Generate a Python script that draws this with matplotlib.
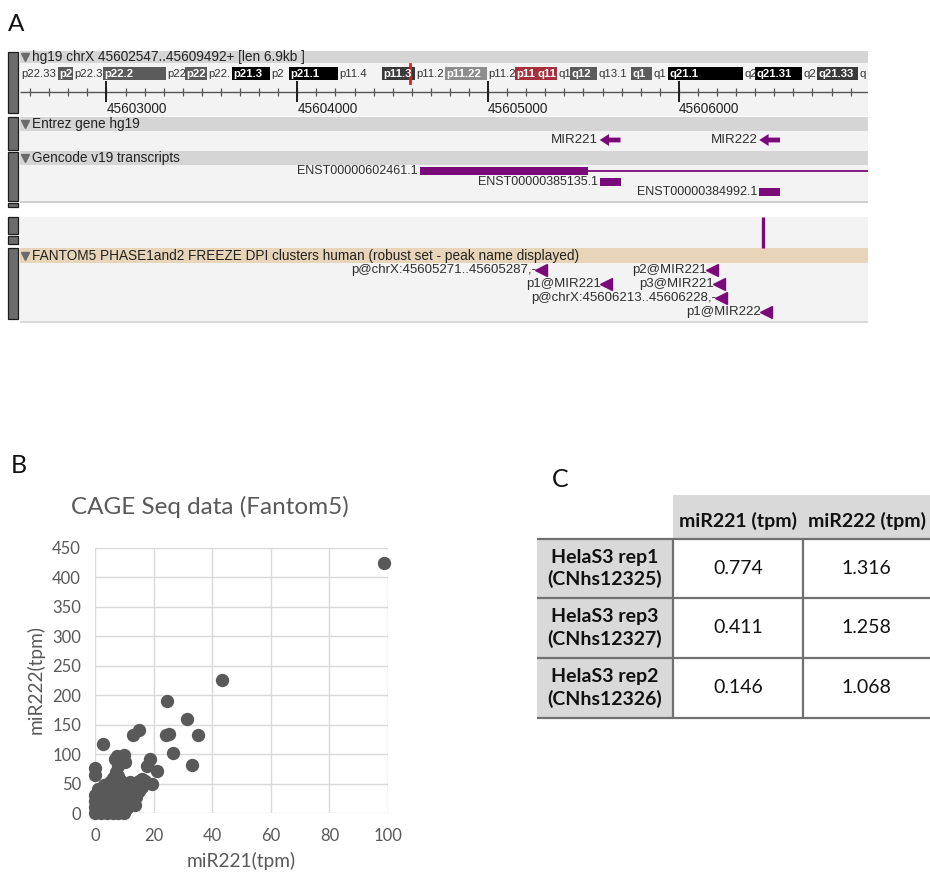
import matplotlib
matplotlib.use("Agg")
import matplotlib.pyplot as plt
from matplotlib.patches import Rectangle, Polygon
import numpy as np

# ======================= DATA =======================
# ---- Panel A : genome browser view (hg19 chrX) ----
view_start = 45602547
view_end = 45606991
ruler_major = [45603000, 45604000, 45605000, 45606000]

track_titles = ["hg19 chrX 45602547..45609492+ [len 6.9kb ]",
                "Entrez gene hg19",
                "Gencode v19 transcripts",
                "FANTOM5 PHASE1and2 FREEZE DPI clusters human (robust set - peak name displayed)"]

band_labels = ["p22.33", "p2", "p22.3", "p22.2", "p22", "p22", "p22.", "p21.3", "p2", "p21.1",
               "p11.4", "p11.3", "p11.2", "p11.22", "p11.2", "p11", "q11", "q1", "q12", "q13.1",
               "q1", "q1", "q21.1", "q2", "q21.31", "q2", "q21.33", "q"]
band_stains = ["gneg", "gpos50", "gneg", "gpos50", "gneg", "gpos50", "gneg", "gpos100", "gneg", "gpos100",
               "gneg", "gpos75", "gneg", "gpos25", "gneg", "acen", "acen", "gneg", "gpos50", "gneg",
               "gpos50", "gneg", "gpos100", "gneg", "gpos100", "gneg", "gpos75", "gneg"]
band_edges = [0, 38, 53, 83, 146, 165, 187, 212, 250, 269, 318, 362, 395, 425, 467, 495, 516, 537,
              550, 577, 611, 632, 648, 723, 735, 782, 797, 838, 848]
ideogram_marker = 390

gene_names = ["MIR221", "MIR222"]
gene_start = [45605585, 45606421]
gene_end = [45605694, 45606530]

tx_names = ["ENST00000602461.1", "ENST00000385135.1", "ENST00000384992.1"]
tx_thick_start = [45604643, 45605585, 45606421]
tx_thick_end = [45605525, 45605694, 45606530]
tx_end = [45609492, 45605694, 45606530]

signal_pos = [45606440]

peak_names = ["p@chrX:45605271..45605287,-", "p2@MIR221", "p1@MIR221", "p3@MIR221",
              "p@chrX:45606213..45606228,-", "p1@MIR222"]
peak_pos = [45605279, 45606171, 45605620, 45606208, 45606221, 45606454]
peak_row = [0, 0, 1, 1, 2, 3]

# ---- Panel B : CAGE scatter ----
mir221_tpm = [98.5, 43.5, 24.7, 31.3, 15.1, 13.1, 24.2, 25.4, 35.3, 2.6, 26.7, 33.0, 0.0, 0.0,
              9.8, 7.6, 6.8, 10.2, 18.8, 17.8, 21.3, 19.3, 13.6,
              0, 0, 0, 0, 1, 1, 1, 1, 1, 2, 2, 2, 2, 3, 3, 3, 3, 3,
              4, 4, 4, 4, 4, 5, 5, 5, 5, 5, 6, 6, 6, 6, 6, 6,
              7, 7, 7, 7, 7, 7, 8, 8, 8, 8, 8, 8, 8, 9, 9, 9, 9, 9,
              10, 10, 10, 10, 10, 11, 11, 11, 12, 12, 12, 13, 13, 14, 14, 15, 15, 16, 16, 17]
mir222_tpm = [425, 226, 191, 160, 141, 132, 133, 135, 133, 118, 102, 81, 77, 64,
              98, 96, 91, 87, 91, 79, 72, 49, 13,
              0, 10, 20, 30, 5, 15, 25, 35, 40, 0, 10, 20, 30, 5, 15, 25, 38, 48,
              0, 10, 20, 30, 45, 5, 15, 25, 38, 52, 0, 12, 22, 32, 45, 60,
              5, 18, 28, 40, 55, 70, 0, 10, 22, 35, 48, 62, 80, 5, 15, 28, 42, 55,
              0, 12, 25, 38, 50, 8, 30, 45, 20, 35, 52, 18, 42, 28, 48, 38, 55, 45, 58, 55]

# ---- Panel C : table ----
col_headers = ["miR221 (tpm)", "miR222 (tpm)"]
row_labels = ["HelaS3 rep1\n(CNhs12325)", "HelaS3 rep3\n(CNhs12327)", "HelaS3 rep2\n(CNhs12326)"]
tbl_mir221 = ["0.774", "0.411", "0.146"]
tbl_mir222 = ["1.316", "1.258", "1.068"]

# ======================= FIGURE =======================
W, H = 930, 873
fig = plt.figure(figsize=(9.3, 8.73), dpi=100)
fig.patch.set_facecolor("white")

ARIAL = ["Liberation Sans", "DejaVu Sans"]
CALIB = ["Lato", "DejaVu Sans"]
PURPLE = "#7a0a7a"
TXT = "#2e2e2e"


def ax_px(x0, y0, x1, y1):
    return fig.add_axes([x0 / W, 1 - y1 / H, (x1 - x0) / W, (y1 - y0) / H])


# ---------------- Panel A ----------------
fig.text(8 / W, 1 - 31 / H, "A", fontsize=17.5, family=CALIB, color="#111111", va="baseline")

axA = ax_px(20, 45, 868, 325)
axA.set_xlim(view_start, view_end)
axA.set_ylim(325, 45)
axA.axis("off")
yt = axA.get_yaxis_transform()
AW = 848.0


def hband(y0, y1, color):
    axA.add_patch(Rectangle((0, y0), 1, y1 - y0, transform=yt, facecolor=color, lw=0, zorder=0))


hband(51, 63, "#d5d5d5")
hband(63, 116, "#f3f3f3")
hband(117, 131, "#d5d5d5")
hband(131, 151, "#f3f3f3")
hband(151, 165, "#d5d5d5")
hband(165, 201, "#f3f3f3")
hband(201, 203, "#cfcfcf")
hband(217, 248, "#f3f3f3")
hband(248, 263, "#e8d4b8")
hband(263, 321, "#f3f3f3")
hband(321, 323, "#d9d9d9")

# track handles on the left
for (y0, y1) in [(52, 113), (117, 150), (152, 201), (203, 207), (217, 234), (236, 244), (248, 319)]:
    axA.add_patch(Rectangle((-12 / AW, y0), 10 / AW, y1 - y0, transform=yt,
                            facecolor="#6c6c6c", edgecolor="#1c1c1c", lw=0.9, clip_on=False, zorder=2))

# track titles
for title, yc in zip(track_titles, [57, 124, 158, 256]):
    axA.plot([5 / AW], [yc], marker="v", ms=6, color="#6a6a6a", transform=yt, zorder=3)
    axA.text(11.5 / AW, yc, title, transform=yt, fontsize=9.8, family=ARIAL, color="#222222",
             va="center", ha="left", zorder=3)

# ideogram
axI = ax_px(20, 67, 868, 80)
axI.set_xlim(band_edges[0], band_edges[-1])
axI.set_ylim(0, 1)
axI.axis("off")
stain_color = {"gpos25": "#8d8d8d", "gpos50": "#5b5b5b", "gpos75": "#3a3a3a",
               "gpos100": "#000000", "acen": "#a8303a"}
for lab, st, a, b in zip(band_labels, band_stains, band_edges[:-1], band_edges[1:]):
    if st != "gneg":
        axI.add_patch(Rectangle((a, 0), b - a, 1, facecolor=stain_color[st], lw=0))
        t = axI.text(a + 1.5, 0.45, lab, fontsize=8.2, family=ARIAL, color="white",
                     fontweight="bold", va="center", ha="left")
    else:
        t = axI.text(a + 1.5, 0.45, lab, fontsize=8.2, family=ARIAL, color="#333333",
                     va="center", ha="left")
    t.set_clip_path(Rectangle((a, 0), b - a, 1, transform=axI.transData))
axI.plot([ideogram_marker, ideogram_marker], [-0.25, 1.25], color="#e02020", lw=2, clip_on=False)

# ruler
minor = np.arange(45602600, view_end, 100)
axA.hlines(92, view_start, view_end, color="#555555", lw=1)
axA.vlines(minor, 88, 96, color="#555555", lw=0.9)
axA.vlines(ruler_major, 81, 102, color="#1e1e1e", lw=1.4)
for p in ruler_major:
    axA.text(p, 102, f"{p}", ha="left", va="top", fontsize=9.8, family=ARIAL, color="#222222")


def left_arrow(start, end, y, body_h=2.4, head_h=6.0, head_frac=0.45):
    hl = (end - start) * head_frac
    verts = [(start, y), (start + hl, y - head_h), (start + hl, y - body_h), (end, y - body_h),
             (end, y + body_h), (start + hl, y + body_h), (start + hl, y + head_h)]
    axA.add_patch(Polygon(verts, closed=True, facecolor=PURPLE, edgecolor="none", zorder=3))


# Entrez genes
for name, s, e in zip(gene_names, gene_start, gene_end):
    left_arrow(s, e, 140)
    axA.annotate(name, xy=(s, 140), xytext=(-1, 0), textcoords="offset points",
                 ha="right", va="center", fontsize=9.6, family=ARIAL, color=TXT)

# Gencode transcripts
for name, ts, te, e, y in zip(tx_names, tx_thick_start, tx_thick_end, tx_end, [171, 182, 192]):
    if e > te:
        axA.hlines(y, te, e, color=PURPLE, lw=1.3, zorder=2)
    axA.add_patch(Rectangle((ts, y - 4.3), te - ts, 8.6, facecolor=PURPLE, lw=0, zorder=3))
    axA.annotate(name, xy=(ts, y), xytext=(-1.5, 0), textcoords="offset points",
                 ha="right", va="center", fontsize=9.0, family=ARIAL, color=TXT)

# signal track
axA.vlines(signal_pos, 217, 248, color=PURPLE, lw=2.4, zorder=3)

# FANTOM5 peaks
row_y = [270, 284, 298, 312]
for name, p, r in zip(peak_names, peak_pos, peak_row):
    y = row_y[r]
    axA.plot([p], [y], marker="<", ms=8.5, color=PURPLE, ls="none", zorder=3, clip_on=False)
    axA.annotate(name, xy=(p, y), xytext=(-3.5, 0), textcoords="offset points",
                 ha="right", va="center", fontsize=9.5, family=ARIAL, color=TXT)

# ---------------- Panel B ----------------
fig.text(11 / W, 1 - 473 / H, "B", fontsize=18, family=CALIB, color="#111111", va="baseline")
fig.text(210 / W, 1 - 514 / H, "CAGE Seq data (Fantom5)", fontsize=17.5, family=CALIB,
         color="#595959", ha="center", va="baseline")

axB = ax_px(95, 548, 388, 813)
axB.set_xlim(0, 100)
axB.set_ylim(0, 450)
axB.set_xticks(range(0, 101, 20))
axB.set_yticks(range(0, 451, 50))
axB.grid(True, color="#d9d9d9", lw=1)
axB.set_axisbelow(True)
for s in axB.spines.values():
    s.set_visible(False)
axB.tick_params(axis="both", length=0, labelsize=12, labelcolor="#595959")
axB.tick_params(axis="x", pad=11)
axB.tick_params(axis="y", pad=10)
for lab in axB.get_xticklabels() + axB.get_yticklabels():
    lab.set_family(CALIB)
axB.scatter(mir221_tpm, mir222_tpm, s=92, color="#595959", linewidths=0, clip_on=False, zorder=3)
fig.text(241 / W, 1 - 861 / H, "miR221(tpm)", fontsize=13.8, family=CALIB, color="#595959",
         ha="center", va="center")
fig.text(36 / W, 1 - 680 / H, "miR222(tpm)", fontsize=13.8, family=CALIB, color="#595959",
         ha="center", va="center", rotation=90)

# ---------------- Panel C ----------------
fig.text(552 / W, 1 - 487 / H, "C", fontsize=18, family=CALIB, color="#111111", va="baseline")

axC = ax_px(537, 495, 930, 720)
axC.set_xlim(537, 930)
axC.set_ylim(720, 495)
axC.axis("off")
col_edges = [537, 673, 803, 930]
row_edges = [495, 539, 598, 658, 718]
GRAY = "#d9d9d9"
axC.add_patch(Rectangle((col_edges[1], row_edges[0]), col_edges[3] - col_edges[1],
                        row_edges[1] - row_edges[0], facecolor=GRAY, lw=0))
axC.add_patch(Rectangle((col_edges[0], row_edges[1]), col_edges[1] - col_edges[0],
                        row_edges[4] - row_edges[1], facecolor=GRAY, lw=0))
for j, h in enumerate(col_headers):
    axC.text((col_edges[j + 1] + col_edges[j + 2]) / 2, 521, h, ha="center", va="center",
             fontsize=14, fontweight="bold", family=CALIB, color="#111111")
for i, (lab, v1, v2) in enumerate(zip(row_labels, tbl_mir221, tbl_mir222)):
    yc = (row_edges[i + 1] + row_edges[i + 2]) / 2
    axC.text((col_edges[0] + col_edges[1]) / 2, yc, lab, ha="center", va="center",
             fontsize=14, fontweight="bold", family=CALIB, color="#111111", linespacing=1.3)
    axC.text((col_edges[1] + col_edges[2]) / 2, yc, v1, ha="center", va="center",
             fontsize=14, family=CALIB, color="#111111")
    axC.text((col_edges[2] + col_edges[3]) / 2, yc, v2, ha="center", va="center",
             fontsize=14, family=CALIB, color="#111111")
axC.hlines(row_edges[1:], col_edges[0], col_edges[3], color="#707070", lw=1.6)
axC.vlines(col_edges[1:3], row_edges[1], row_edges[4], color="#707070", lw=1.6)

fig.savefig("out.png", dpi=100)
